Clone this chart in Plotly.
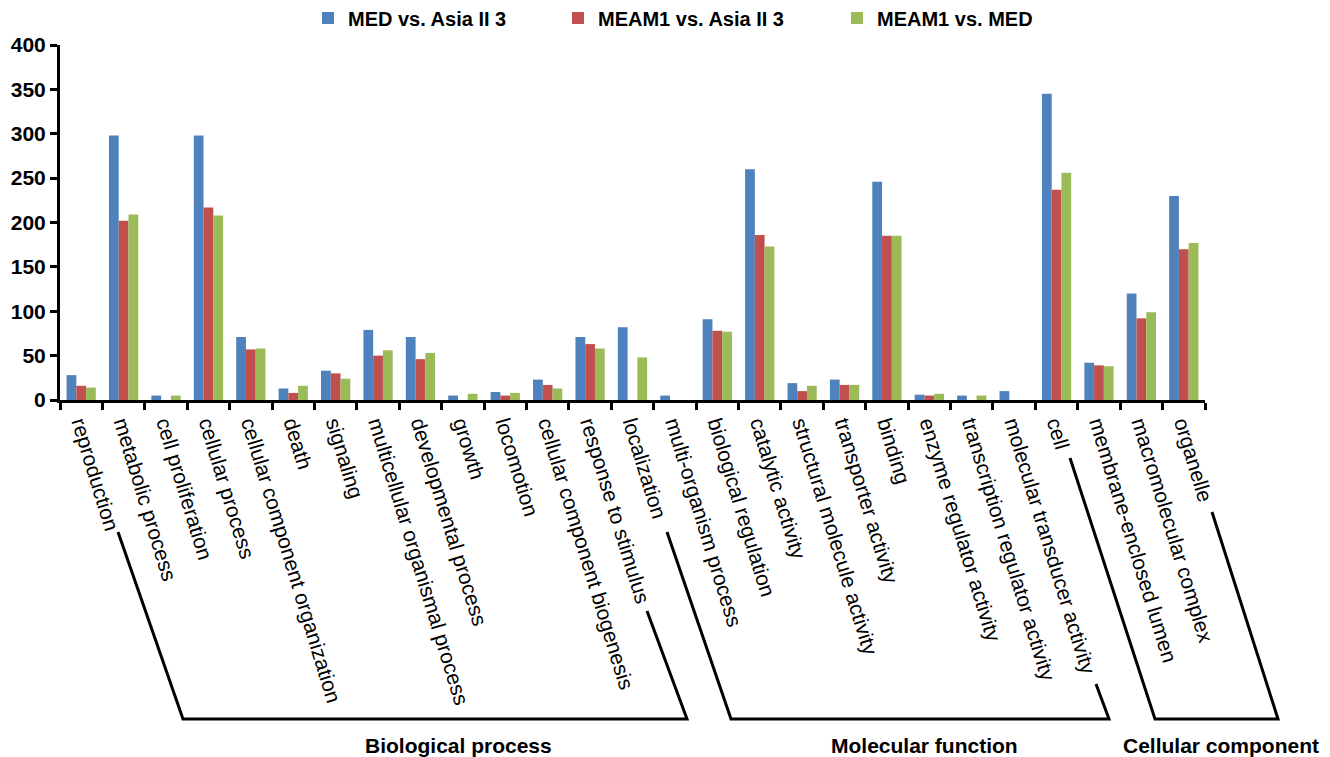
import plotly.graph_objects as go

categories = [
    "reproduction", "metabolic process", "cell proliferation", "cellular process",
    "cellular component organization", "death", "signaling",
    "multicellular organismal process", "developmental process", "growth",
    "locomotion", "cellular component biogenesis", "response to stimulus",
    "localization", "multi-organism process", "biological regulation",
    "catalytic activity", "structural molecule activity", "transporter activity",
    "binding", "enzyme regulator activity", "transcription regulator activity",
    "molecular transducer activity", "cell", "membrane-enclosed lumen",
    "macromolecular complex", "organelle",
]

med_vs_asia = [28, 298, 5, 298, 71, 13, 33, 79, 71, 5, 9, 23, 71, 82, 5, 91,
               260, 19, 23, 246, 6, 5, 10, 345, 42, 120, 230]
meam1_vs_asia = [16, 202, 0, 217, 57, 8, 30, 50, 46, 0, 5, 17, 63, 0, 0, 78,
                 186, 10, 17, 185, 5, 0, 0, 237, 39, 92, 170]
meam1_vs_med = [14, 209, 5, 208, 58, 16, 24, 56, 53, 7, 8, 13, 58, 48, 0, 77,
                173, 16, 17, 185, 7, 5, 0, 256, 38, 99, 177]

series_names = ["MED vs. Asia II 3", "MEAM1 vs. Asia II 3", "MEAM1 vs. MED"]
series_colors = ["#4F81BD", "#C0504D", "#9BBB59"]
y_ticks = [0, 50, 100, 150, 200, 250, 300, 350, 400]

group_labels = ["Biological process", "Molecular function", "Cellular component"]

W, H = 1330, 757
L, R, T, B = 60, 125, 45, 357
FONT = "Liberation Sans, Arial, sans-serif"


def px_x(p):
    return (p - L) / (W - L - R)


def px_y(p):
    return (H - B - p) / (H - B - T)


legend_ids = ["legend", "legend2", "legend3"]
legend_left_px = [308, 558, 837]

fig = go.Figure()
for name, vals, col, lid in zip(series_names, [med_vs_asia, meam1_vs_asia, meam1_vs_med],
                                series_colors, legend_ids):
    fig.add_trace(go.Bar(name=name, x=categories, y=vals, legend=lid,
                         marker=dict(color=col, line=dict(width=0))))

brackets = [
    [(118, 532), (183, 719), (687, 719), (647, 611)],
    [(667, 532), (731, 719), (1109, 719), (1096, 684)],
    [(1070, 458), (1155, 719), (1278, 719), (1212, 512)],
]
shapes = []
for pts in brackets:
    path = "M " + " L ".join(f"{px_x(x):.5f},{px_y(y):.5f}" for x, y in pts)
    shapes.append(dict(type="path", xref="paper", yref="paper", path=path,
                       line=dict(color="black", width=3)))

group_pos = [(458, 745), (924, 745), (1221, 745)]
annotations = []
for text, (gx, gy) in zip(group_labels, group_pos):
    annotations.append(dict(text=f"<b>{text}</b>", xref="paper", yref="paper",
                            x=px_x(gx), y=px_y(gy), showarrow=False,
                            xanchor="center", yanchor="middle",
                            font=dict(family=FONT, size=21, color="black")))

legend_layout = {}
for lid, lx in zip(legend_ids, legend_left_px):
    legend_layout[lid] = dict(orientation="h", x=px_x(lx), y=px_y(18), xanchor="left",
                              yanchor="middle", itemwidth=30,
                              font=dict(family=FONT, size=20, color="black", weight="bold"),
                              bgcolor="rgba(0,0,0,0)")

fig.update_layout(
    width=W, height=H,
    margin=dict(l=L, r=R, t=T, b=B, pad=0, autoexpand=False),
    paper_bgcolor="white", plot_bgcolor="white",
    barmode="group", bargap=0.31, bargroupgap=0,
    font=dict(family=FONT, color="black"),
    showlegend=True,
    shapes=shapes,
    annotations=annotations,
    xaxis=dict(type="category", showline=True, linecolor="black", linewidth=3,
               ticks="outside", ticklen=7, tickwidth=3, tickcolor="black",
               tickson="boundaries", tickangle=73, showgrid=False, automargin=False,
               tickfont=dict(family=FONT, size=21, color="black"), zeroline=False),
    yaxis=dict(range=[0, 400], tickvals=y_ticks, showline=True, linecolor="black",
               linewidth=3, ticks="outside", ticklen=7, tickwidth=3, tickcolor="black",
               showgrid=False, zeroline=False, automargin=False,
               tickfont=dict(family=FONT, size=21, color="black", weight="bold")),
    **legend_layout,
)

fig.write_html("out.html", config={"displayModeBar": False},
               post_script="document.body.style.margin='0';document.body.style.overflow='hidden';")
